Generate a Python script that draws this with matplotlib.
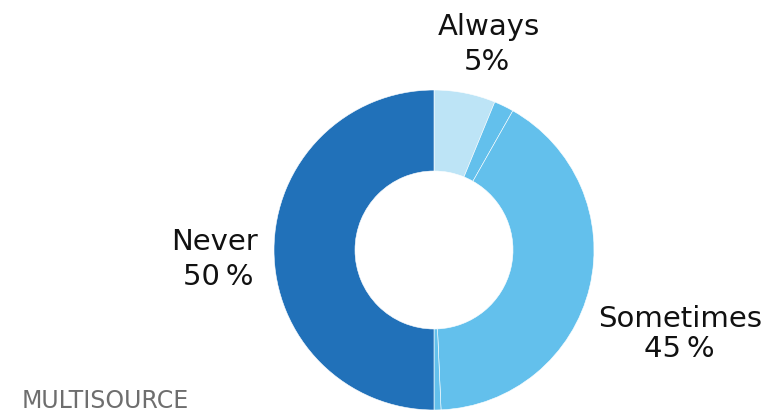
import matplotlib.pyplot as plt

# answer shares, clockwise from the top
categories = ['Always', 'Often', 'Sometimes', 'Rarely', 'Never']
values = [6.2, 2.0, 41.1, 0.7, 50.0]
colors = ['#BDE4F6', '#63C0EC', '#63C0EC', '#63C0EC', '#2171B9']

# label lines and their (x, baseline) positions in pixels
label_names = ['Always', 'Sometimes', 'Never']
label_pcts = ['5%', '45\u2009%', '50\u2009%']
name_pos = [(489, 35), (680, 327), (214, 250)]
pct_pos = [(487, 70), (679, 357), (218, 285)]

fig = plt.figure(figsize=(7.81, 4.15), dpi=100)
ax = fig.add_axes([0, 0, 1, 1])

# pie in flipped y: counterclock=True draws clockwise on screen
ax.pie(values, colors=colors, startangle=-90, counterclock=True,
       center=(434, 250), radius=160, frame=True,
       wedgeprops=dict(width=81, edgecolor='white', linewidth=0.4))
ax.set_xlim(0, 781)
ax.set_ylim(415, 0)
ax.set_aspect('equal')
ax.axis('off')

for name, pct, (x1, y1), (x2, y2) in zip(label_names, label_pcts, name_pos, pct_pos):
    ax.text(x1, y1, name, ha='center', va='baseline', fontsize=21,
            family='DejaVu Sans', color='#111111')
    ax.text(x2, y2, pct, ha='center', va='baseline', fontsize=21,
            family='DejaVu Sans', color='#111111')

ax.text(22, 408, 'MULTISOURCE', ha='left', va='baseline', fontsize=17,
        family='DejaVu Sans', color='#6E6E6E')

fig.savefig('out.png', dpi=100)
